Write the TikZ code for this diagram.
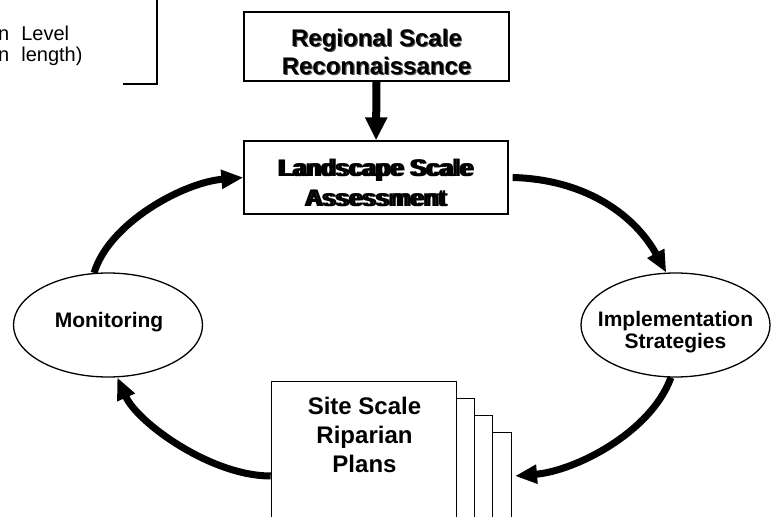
\documentclass[tikz,border=0pt]{standalone}
\usepackage{fontspec}
\setmainfont{Liberation Sans}
\usetikzlibrary{arrows.meta,shapes.geometric,calc}
\newcommand\shd[1]{\rlap{\hspace{1.2pt}\raisebox{-1.2pt}{\textcolor{black!70}{#1}}}#1}
\newcommand\dbl[1]{\rlap{\hspace{3pt}#1}#1}
\begin{document}
\begin{tikzpicture}[x=1pt,y=1pt,
  box/.style={draw,line width=1.3pt,fill=white,inner sep=0pt},
  oval/.style={draw,ellipse,line width=1.3pt,inner sep=0pt,minimum width=189pt,minimum height=104pt},
  big/.style={font=\fontsize{24}{28}\selectfont\bfseries,align=center,inner sep=0pt},
  mid/.style={font=\fontsize{21}{22}\selectfont\bfseries,align=center,inner sep=0pt},
  plain/.style={font=\fontsize{20}{22}\selectfont,inner sep=0pt},
  flow/.style={line width=7pt,-{Triangle[length=22pt,width=18pt]}},
  sheetbox/.style={draw,line width=1.3pt,fill=white,inner sep=0pt,anchor=north east,minimum height=160pt}]
\useasboundingbox (0,0) rectangle (775,516);

% partial box at top left
\node[plain,anchor=base west] (lvl) at (-2,475) {n\hspace{12pt}Level};
\node[plain,anchor=base west] (len) at (-2,454) {n\hspace{12pt}length)};
\draw[line width=1.3pt] (157,520) -- (157,432) -- (123,432);

% boxes
\node[box,minimum width=265pt,minimum height=69pt] (reg) at (376.5,469.5) {};
\node[big] (regtxt) at (376.5,463.5) {\shd{Regional Scale}\\\shd{Reconnaissance}};
\node[box,minimum width=264pt,minimum height=73pt] (land) at (376,338.5) {};
\node[big,font=\fontsize{24}{30}\selectfont\bfseries] (landtxt) at (374.5,333.5) {\dbl{Landscape Scale}\\\dbl{Assessment}};

% ellipses
\node[oval] (mon) at (108,191) {};
\node[mid] (montxt) at (109,193.5) {Monitoring};
\node[oval] (impl) at (675.5,191) {};
\node[mid] (impltxt) at (675.5,184) {Implementation\\Strategies};

% stacked plans
\node[sheetbox,minimum width=36pt] (sheet3) at (512,84) {};
\node[sheetbox,minimum width=36pt] (sheet2) at (493,101) {};
\node[sheetbox,minimum width=36pt] (sheet1) at (475,118) {};
\node[sheetbox,minimum width=185pt] (site) at (457,135) {};
\node[big,font=\fontsize{24}{29}\selectfont\bfseries] (sitetxt) at (364.5,81.5) {Site Scale\\Riparian\\Plans};
\coordinate (planin) at (515,40);

% arrows
\draw[line width=8pt,-{Triangle[length=23pt,width=21pt]}] (reg.south) -- (land.north);
\draw[flow] ([xshift=4pt]land.east) .. controls +(76,-2) and +(-30,55) .. (impl.100);
\draw[flow] (impl.265) .. controls +(-20,-55) and +(60,5) .. (planin);
\draw[flow] (site.west |- planin) .. controls +(-60,0) and +(20,-45) .. (mon.280);
\draw[flow] (mon.105) .. controls +(15,50) and +(-60,-5) .. (land.west);
\end{tikzpicture}
\end{document}
